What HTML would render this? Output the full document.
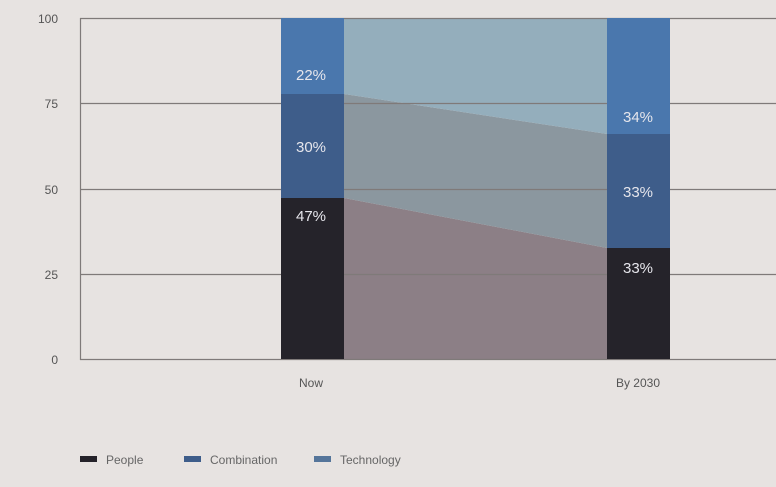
<!DOCTYPE html>
<html><head><style>
body{margin:0;background:#e7e3e1;}
svg{display:block;font-family:"Liberation Sans",sans-serif;}
</style></head><body>
<svg width="776" height="487" viewBox="0 0 776 487">
<rect width="776" height="487" fill="#e7e3e1"/>
<!-- areas -->
<polygon points="344,198 607,248 607,359 344,359" fill="#8c7f86"/>
<polygon points="344,94 607,134 607,248 344,198" fill="#8b979f"/>
<polygon points="344,19 607,19 607,134 344,94" fill="#94aebc"/>
<!-- grid -->
<g stroke="#7f7a79" stroke-width="1.2">
<line x1="80" y1="18.5" x2="776" y2="18.5"/>
<line x1="80" y1="103.5" x2="776" y2="103.5"/>
<line x1="80" y1="189.5" x2="776" y2="189.5"/>
<line x1="80" y1="274.5" x2="776" y2="274.5"/>
<line x1="80" y1="359.5" x2="776" y2="359.5"/>
<line x1="80.5" y1="18" x2="80.5" y2="360"/>
</g>
<!-- bars -->
<rect x="281" y="18" width="63" height="76" fill="#4a77ad"/>
<rect x="281" y="94" width="63" height="104" fill="#3e5d8a"/>
<rect x="281" y="198" width="63" height="161" fill="#25232a"/>
<rect x="607" y="18" width="63" height="116" fill="#4a77ad"/>
<rect x="607" y="134" width="63" height="114" fill="#3e5d8a"/>
<rect x="607" y="248" width="63" height="111" fill="#25232a"/>
<g fill="#e6e6ec" font-size="15" text-anchor="middle">
<text x="311" y="80">22%</text>
<text x="311" y="152">30%</text>
<text x="311" y="221">47%</text>
<text x="638" y="122">34%</text>
<text x="638" y="197">33%</text>
<text x="638" y="273">33%</text>
</g>
<g fill="#555" font-size="12" text-anchor="end">
<text x="58" y="23">100</text>
<text x="58" y="108">75</text>
<text x="58" y="194">50</text>
<text x="58" y="279">25</text>
<text x="58" y="364">0</text>
</g>
<g fill="#555" font-size="12" text-anchor="middle">
<text x="311" y="387">Now</text>
<text x="638" y="387">By 2030</text>
</g>
<rect x="80" y="456" width="17" height="6" fill="#25232a"/>
<rect x="184" y="456" width="17" height="6" fill="#3e5d8a"/>
<rect x="314" y="456" width="17" height="6" fill="#55759a"/>
<g fill="#666" font-size="12">
<text x="106" y="464">People</text>
<text x="210" y="464">Combination</text>
<text x="340" y="464">Technology</text>
</g>
</svg>
</body></html>
